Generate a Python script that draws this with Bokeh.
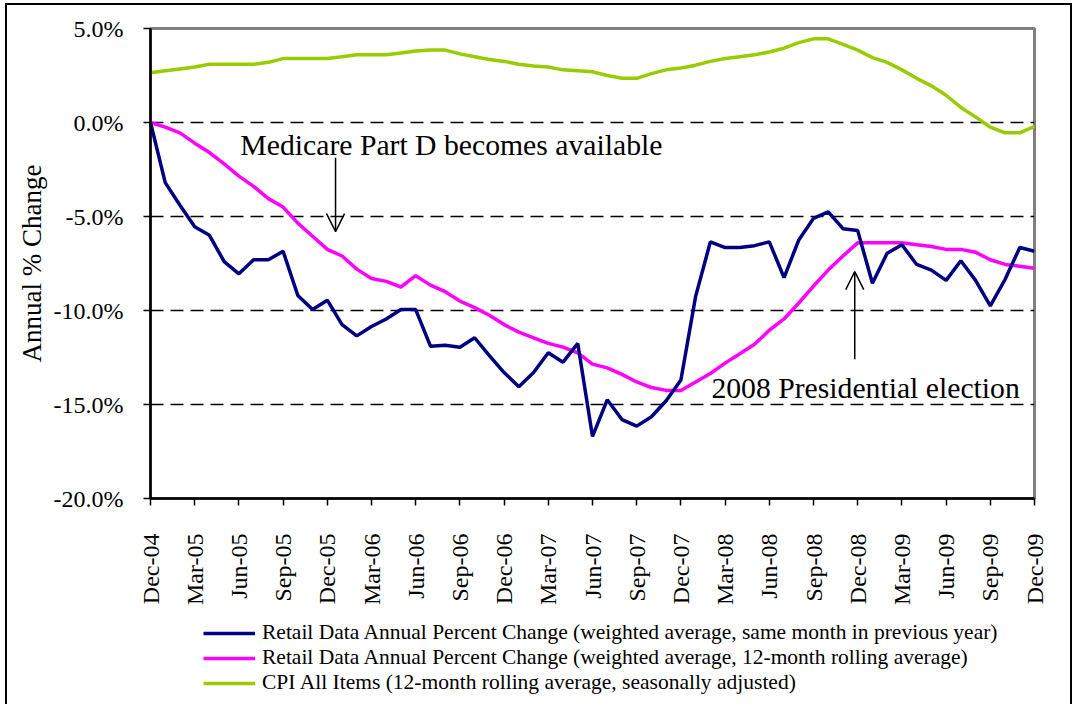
import math
from bokeh.plotting import figure
from bokeh.layouts import column
from bokeh.models import (Range1d, FixedTicker, PrintfTickFormatter, Arrow, OpenHead,
                          Label, Legend, LegendItem, ColumnDataSource)
from bokeh.embed import file_html
from bokeh.resources import INLINE

# ---------------- data ----------------
month_index = list(range(61))  # Dec-04 .. Dec-09, monthly

retail_yoy = [0.0, -3.2, -4.4, -5.55, -6.0, -7.4, -8.05, -7.3, -7.3, -6.85,
              -9.2, -9.95, -9.45, -10.75, -11.35, -10.85, -10.45, -9.95, -9.95, -11.9,
              -11.85, -11.95, -11.45, -12.4, -13.3, -14.05, -13.3, -12.25, -12.75, -11.75,
              -16.7, -14.75, -15.8, -16.15, -15.65, -14.8, -13.7, -9.25, -6.35, -6.65,
              -6.65, -6.55, -6.35, -8.25, -6.25, -5.1, -4.75, -5.65, -5.75, -8.55,
              -6.95, -6.5, -7.55, -7.85, -8.4, -7.35, -8.4, -9.75, -8.35, -6.65,
              -6.85]

retail_12m = [0.0, -0.25, -0.55, -1.1, -1.6, -2.2, -2.85, -3.4, -4.05, -4.5,
              -5.35, -6.05, -6.75, -7.1, -7.8, -8.3, -8.45, -8.75, -8.15, -8.65,
              -9.0, -9.5, -9.85, -10.25, -10.75, -11.15, -11.45, -11.75, -11.95, -12.25,
              -12.85, -13.05, -13.4, -13.8, -14.1, -14.25, -14.25, -13.8, -13.35, -12.8,
              -12.3, -11.8, -11.05, -10.45, -9.6, -8.7, -7.85, -7.1, -6.4, -6.4,
              -6.4, -6.4, -6.5, -6.6, -6.75, -6.75, -6.9, -7.3, -7.55, -7.65,
              -7.75]

cpi = [2.65, 2.75, 2.85, 2.95, 3.1, 3.1, 3.1, 3.1, 3.2, 3.4,
       3.4, 3.4, 3.4, 3.5, 3.6, 3.6, 3.6, 3.7, 3.8, 3.85,
       3.85, 3.65, 3.5, 3.35, 3.25, 3.1, 3.0, 2.95, 2.8, 2.75,
       2.7, 2.5, 2.35, 2.35, 2.6, 2.8, 2.9, 3.05, 3.25, 3.4,
       3.5, 3.6, 3.75, 3.95, 4.25, 4.45, 4.45, 4.15, 3.85, 3.45,
       3.2, 2.8, 2.35, 1.95, 1.45, 0.8, 0.3, -0.25, -0.55, -0.55,
       -0.2]

tick_positions = list(range(0, 61, 3))
tick_labels = ["Dec-04", "Mar-05", "Jun-05", "Sep-05", "Dec-05", "Mar-06", "Jun-06",
               "Sep-06", "Dec-06", "Mar-07", "Jun-07", "Sep-07", "Dec-07", "Mar-08",
               "Jun-08", "Sep-08", "Dec-08", "Mar-09", "Jun-09", "Sep-09", "Dec-09"]
y_ticks = [-20, -15, -10, -5, 0, 5]

series_names = [
    "Retail Data Annual Percent Change (weighted average, same month in previous year)",
    "Retail Data Annual Percent Change (weighted average, 12-month rolling average)",
    "CPI All Items (12-month rolling average, seasonally adjusted)",
]
series_colors = ["#000080", "#FF00FF", "#99CC00"]

FONT = "Liberation Serif"

src = ColumnDataSource(dict(x=month_index, yoy=retail_yoy, r12=retail_12m, cpi=cpi))

# ---------------- main chart ----------------
p = figure(width=1063, height=607, output_backend="svg", toolbar_location=None,
           x_range=Range1d(0, 60), y_range=Range1d(-20, 5),
           min_border_left=143, min_border_right=36, min_border_top=23,
           min_border_bottom=114)

p.background_fill_color = "white"
p.border_fill_color = "white"
p.outline_line_color = "#808080"
p.outline_line_width = 3

p.xgrid.grid_line_color = None
p.ygrid.ticker = FixedTicker(ticks=[-15, -10, -5, 0])
p.ygrid.grid_line_color = "black"
p.ygrid.grid_line_width = 1.5
p.ygrid.grid_line_dash = "13 7"

xa = p.xaxis[0]
xa.ticker = FixedTicker(ticks=tick_positions)
xa.major_label_overrides = {pos: lab for pos, lab in zip(tick_positions, tick_labels)}
xa.major_label_orientation = math.pi / 2
xa.minor_tick_line_color = None
xa.major_tick_in = 0
xa.major_tick_out = 7
xa.major_tick_line_width = 1.5
xa.axis_line_width = 2.5
xa.axis_line_color = "black"
xa.major_label_standoff = 28
xa.major_label_text_font = FONT
xa.major_label_text_font_size = "24px"
xa.major_label_text_color = "black"

ya = p.yaxis[0]
ya.ticker = FixedTicker(ticks=y_ticks)
ya.formatter = PrintfTickFormatter(format="%.1f%%")
ya.minor_tick_line_color = None
ya.major_tick_in = 0
ya.major_tick_out = 7
ya.major_tick_line_width = 1.5
ya.axis_line_width = 2.5
ya.axis_line_color = "black"
ya.major_label_standoff = 20
ya.major_label_text_font = FONT
ya.major_label_text_font_size = "24px"
ya.major_label_text_color = "black"
ya.axis_label = "Annual % Change"
ya.axis_label_text_font = FONT
ya.axis_label_text_font_style = "normal"
ya.axis_label_text_font_size = "27px"
ya.axis_label_text_color = "black"
ya.axis_label_standoff = 4

r_cpi = p.line("x", "cpi", source=src, line_color=series_colors[2], line_width=3.5)
r_12 = p.line("x", "r12", source=src, line_color=series_colors[1], line_width=3.5)
r_yoy = p.line("x", "yoy", source=src, line_color=series_colors[0], line_width=3.5)

p.add_layout(Label(x=6.1, y=-1.19, text="Medicare Part D becomes available",
                   text_font=FONT, text_font_size="29.7px", text_color="black",
                   text_baseline="alphabetic"))
p.add_layout(Arrow(x_start=12.56, y_start=-1.88, x_end=12.56, y_end=-5.8,
                   line_width=1.5, line_color="black",
                   end=OpenHead(size=18, line_width=1.5, line_color="black")))
p.add_layout(Label(x=38.07, y=-14.13, text="2008 Presidential election",
                   text_font=FONT, text_font_size="29.7px", text_color="black",
                   text_baseline="alphabetic"))
p.add_layout(Arrow(x_start=47.8, y_start=-12.59, x_end=47.8, y_end=-7.93,
                   line_width=1.5, line_color="black",
                   end=OpenHead(size=18, line_width=1.5, line_color="black")))

# ---------------- legend strip ----------------
# the same series are drawn here only as legend keys; the y range keeps them out of view
p2 = figure(width=1063, height=92, output_backend="svg", toolbar_location=None,
            x_range=Range1d(0, 60), y_range=Range1d(100, 101),
            x_axis_location=None, y_axis_location=None,
            min_border_left=0, min_border_right=0, min_border_top=0,
            min_border_bottom=0)
p2.grid.visible = False
p2.outline_line_color = None
p2.background_fill_color = "white"
p2.border_fill_color = "white"

keys = [p2.line("x", col, source=src, line_color=c, line_width=3.5)
        for col, c in zip(["yoy", "r12", "cpi"], series_colors)]

legend = Legend(items=[LegendItem(label=n, renderers=[k]) for n, k in zip(series_names, keys)],
                location=(53, 9), orientation="vertical",
                glyph_width=52, glyph_height=20, label_height=20,
                label_standoff=7, spacing=0, padding=0, margin=0,
                border_line_alpha=0, background_fill_alpha=0,
                label_text_font=FONT, label_text_font_size="21.5px",
                label_text_color="black")
p2.add_layout(legend, "center")

layout = column(p, p2, spacing=0,
                styles={"margin-left": "7px", "margin-top": "5px",
                        "outline": "2px solid black"})

open("out.html", "w").write(file_html(layout, INLINE))
